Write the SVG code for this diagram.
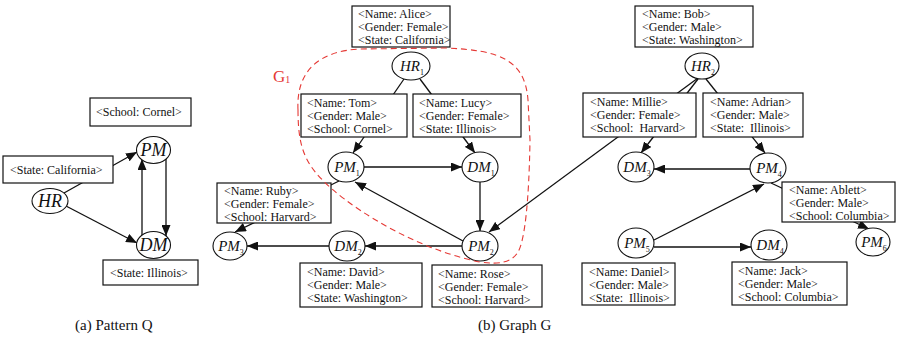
<svg xmlns="http://www.w3.org/2000/svg" width="897" height="343" viewBox="0 0 897 343">
<style>
.bx{fill:#fff;stroke:#111;stroke-width:1.2}
.nd{fill:#fff;stroke:#111;stroke-width:1.1}
text{font-family:'Liberation Serif','Tinos','Nimbus Roman','Nimbus Roman No9 L','FreeSerif','Times New Roman','Times','Noto Serif','DejaVu Serif',serif}
.t{font-size:12px;fill:#111;white-space:pre}
.q{font-style:italic;font-size:18px;fill:#111;text-anchor:middle}
.g{font-style:italic;font-size:15px;fill:#111;text-anchor:middle}
.s{font-size:8px;font-style:normal}
.e{fill:none;stroke:#111;stroke-width:1.3;marker-end:url(#ah)}
.cap{font-size:15px;fill:#111}
.r{font-size:17px;fill:#e53935}
</style>
<defs>
<marker id="ah" markerUnits="userSpaceOnUse" markerWidth="11" markerHeight="9" refX="11" refY="4.5" orient="auto">
<path d="M0,0 L11,4.5 L0,9 Z" fill="#111"/>
</marker>
</defs>
<rect width="897" height="343" fill="#fff"/>

<g id="connectors">
<line class="e" x1="64" y1="193" x2="137" y2="152"/>
<line class="e" x1="66" y1="206" x2="137" y2="243"/>
<line class="e" x1="166" y1="159" x2="166" y2="236"/>
<line class="e" x1="142" y1="236" x2="142" y2="159"/>
<line class="e" x1="404" y1="79" x2="353" y2="153"/>
<line class="e" x1="420" y1="79" x2="475" y2="153"/>
<line class="e" x1="364" y1="167" x2="462" y2="167"/>
<line class="e" x1="480" y1="182" x2="480" y2="231"/>
<line class="e" x1="463" y1="241" x2="355" y2="182"/>
<line class="e" x1="462" y1="246" x2="365" y2="246"/>
<line class="e" x1="329" y1="246" x2="247" y2="246"/>
<line class="e" x1="339" y1="181" x2="235" y2="232"/>
<line class="e" x1="698" y1="78" x2="489" y2="232"/>
<line class="e" x1="698" y1="79" x2="641" y2="153"/>
<line class="e" x1="706" y1="79" x2="765" y2="153"/>
<line class="e" x1="750" y1="169" x2="654" y2="169"/>
<line class="e" x1="771" y1="183" x2="869" y2="229"/>
<line class="e" x1="654" y1="240" x2="764" y2="184"/>
<line class="e" x1="654" y1="247" x2="751" y2="247"/>
</g>

<g id="q-hr">
<ellipse class="nd" cx="50" cy="201" rx="18" ry="12.5"/>
<text class="q" x="50" y="207">HR</text>
<rect class="bx" x="3" y="156" width="110" height="27"/>
<text class="t" x="10" y="174">&lt;State: California&gt;</text>
</g>
<g id="q-pm">
<ellipse class="nd" cx="153.5" cy="150" rx="17" ry="13.5"/>
<text class="q" x="153.5" y="156">PM</text>
<rect class="bx" x="90" y="98" width="101" height="28"/>
<text class="t" x="96" y="116">&lt;School: Cornel&gt;</text>
</g>
<g id="q-dm">
<ellipse class="nd" cx="153.5" cy="245" rx="17" ry="13.5"/>
<text class="q" x="153.5" y="251">DM</text>
<rect class="bx" x="103" y="260" width="95" height="25"/>
<text class="t" x="110" y="277">&lt;State: Illinois&gt;</text>
</g>

<g id="hr1">
<rect class="bx" x="352" y="6" width="98" height="41"/>
<text class="t" x="358" y="18">&lt;Name: Alice&gt;</text>
<text class="t" x="358" y="31">&lt;Gender: Female&gt;</text>
<text class="t" x="358" y="44">&lt;State: California&gt;</text>
<ellipse class="nd" cx="411" cy="66" rx="19" ry="14"/>
<text class="g" x="412" y="71">HR<tspan class="s" dy="4">1</tspan></text>
</g>
<g id="pm1">
<rect class="bx" x="301" y="94" width="106" height="43"/>
<text class="t" x="307" y="107">&lt;Name: Tom&gt;</text>
<text class="t" x="307" y="120">&lt;Gender: Male&gt;</text>
<text class="t" x="307" y="133">&lt;School: Cornel&gt;</text>
<ellipse class="nd" cx="346" cy="167" rx="18" ry="15"/>
<text class="g" x="347" y="172">PM<tspan class="s" dy="4">1</tspan></text>
</g>
<g id="dm1">
<rect class="bx" x="413" y="94" width="108" height="43"/>
<text class="t" x="419" y="107">&lt;Name: Lucy&gt;</text>
<text class="t" x="419" y="120">&lt;Gender: Female&gt;</text>
<text class="t" x="419" y="133">&lt;State: Illinois&gt;</text>
<ellipse class="nd" cx="480" cy="167" rx="18" ry="15"/>
<text class="g" x="481" y="172">DM<tspan class="s" dy="4">1</tspan></text>
</g>
<g id="pm3">
<rect class="bx" x="217" y="183" width="114" height="40"/>
<text class="t" x="224" y="195">&lt;Name: Ruby&gt;</text>
<text class="t" x="224" y="208">&lt;Gender: Female&gt;</text>
<text class="t" x="224" y="221">&lt;School: Harvard&gt;</text>
<ellipse class="nd" cx="230" cy="246" rx="17" ry="14"/>
<text class="g" x="231" y="251">PM<tspan class="s" dy="4">3</tspan></text>
</g>
<g id="dm2">
<ellipse class="nd" cx="347" cy="246" rx="18" ry="15"/>
<text class="g" x="348" y="251">DM<tspan class="s" dy="4">2</tspan></text>
<rect class="bx" x="300" y="263" width="122" height="44"/>
<text class="t" x="307" y="276">&lt;Name: David&gt;</text>
<text class="t" x="307" y="289">&lt;Gender: Male&gt;</text>
<text class="t" x="307" y="302">&lt;State: Washington&gt;</text>
</g>
<g id="pm2">
<ellipse class="nd" cx="480" cy="246" rx="18" ry="15"/>
<text class="g" x="481" y="251">PM<tspan class="s" dy="4">2</tspan></text>
<rect class="bx" x="432" y="265" width="110" height="42"/>
<text class="t" x="438" y="278">&lt;Name: Rose&gt;</text>
<text class="t" x="438" y="291">&lt;Gender: Female&gt;</text>
<text class="t" x="438" y="304">&lt;School: Harvard&gt;</text>
</g>
<g id="hr2">
<rect class="bx" x="635" y="6" width="118" height="41"/>
<text class="t" x="642" y="18">&lt;Name: Bob&gt;</text>
<text class="t" x="642" y="31">&lt;Gender: Male&gt;</text>
<text class="t" x="642" y="44">&lt;State: Washington&gt;</text>
<ellipse class="nd" cx="702" cy="66" rx="17" ry="13"/>
<text class="g" x="703" y="71">HR<tspan class="s" dy="4">2</tspan></text>
</g>
<g id="dm3">
<rect class="bx" x="583" y="93" width="113" height="44"/>
<text class="t" x="590" y="106">&lt;Name: Millie&gt;</text>
<text class="t" x="590" y="119">&lt;Gender: Female&gt;</text>
<text class="t" x="590" y="132">&lt;School:  Harvard&gt;</text>
<ellipse class="nd" cx="636" cy="167" rx="18" ry="15"/>
<text class="g" x="637" y="172">DM<tspan class="s" dy="4">3</tspan></text>
</g>
<g id="pm4">
<rect class="bx" x="703" y="93" width="100" height="44"/>
<text class="t" x="710" y="106">&lt;Name: Adrian&gt;</text>
<text class="t" x="710" y="119">&lt;Gender: Male&gt;</text>
<text class="t" x="710" y="132">&lt;State:  Illinois&gt;</text>
<ellipse class="nd" cx="768" cy="168" rx="18" ry="15"/>
<text class="g" x="769" y="173">PM<tspan class="s" dy="4">4</tspan></text>
</g>
<g id="pm6">
<rect class="bx" x="782" y="182" width="113" height="40"/>
<text class="t" x="789" y="194">&lt;Name: Ablett&gt;</text>
<text class="t" x="789" y="207">&lt;Gender: Male&gt;</text>
<text class="t" x="789" y="220">&lt;School: Columbia&gt;</text>
<ellipse class="nd" cx="873" cy="242" rx="17" ry="14"/>
<text class="g" x="874" y="247">PM<tspan class="s" dy="4">6</tspan></text>
</g>
<g id="pm5">
<ellipse class="nd" cx="636" cy="243" rx="18" ry="15"/>
<text class="g" x="637" y="248">PM<tspan class="s" dy="4">5</tspan></text>
<rect class="bx" x="582" y="263" width="93" height="42"/>
<text class="t" x="589" y="276">&lt;Name: Daniel&gt;</text>
<text class="t" x="589" y="289">&lt;Gender: Male&gt;</text>
<text class="t" x="589" y="302">&lt;State:  Illinois&gt;</text>
</g>
<g id="dm4">
<ellipse class="nd" cx="769" cy="245" rx="18" ry="15"/>
<text class="g" x="770" y="250">DM<tspan class="s" dy="4">4</tspan></text>
<rect class="bx" x="732" y="262" width="115" height="43"/>
<text class="t" x="738" y="275">&lt;Name: Jack&gt;</text>
<text class="t" x="738" y="288">&lt;Gender: Male&gt;</text>
<text class="t" x="738" y="301">&lt;School: Columbia&gt;</text>
</g>

<g id="g1">
<path d="M298,110 C296,70 320,51 360,49 L445,48 C500,50 525,60 528,100 L530,140 C529,200 525,240 518,252 C512,262 500,265 480,262 C420,250 362,215 332,189 C306,166 298,150 298,110 Z" fill="none" stroke="#e53935" stroke-width="1.1" stroke-dasharray="6,4"/>
<text class="r" x="273" y="82">G<tspan font-size="10" dy="1">1</tspan></text>
</g>

<g id="captions">
<text class="cap" x="75" y="330">(a) Pattern Q</text>
<text class="cap" x="478" y="330">(b) Graph G</text>
</g>
</svg>
